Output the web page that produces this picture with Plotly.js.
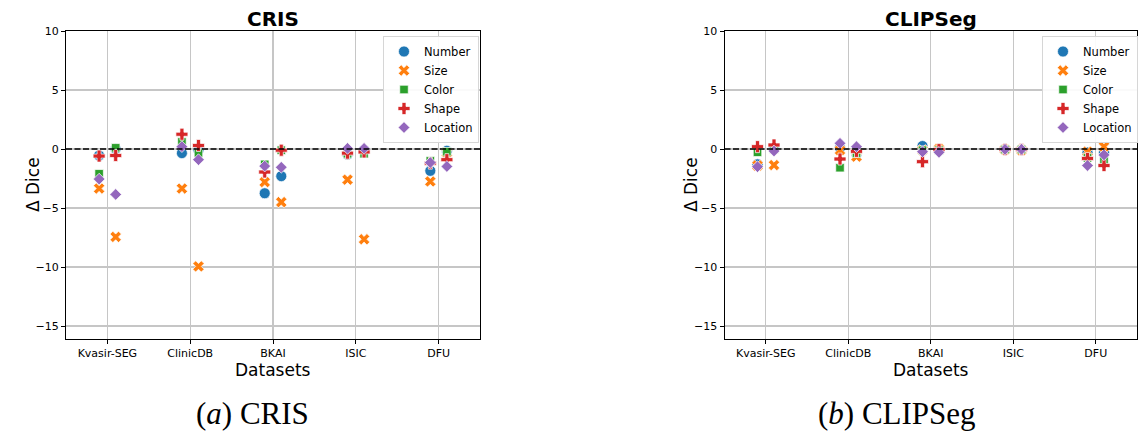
<!DOCTYPE html>
<html>
<head>
<meta charset="utf-8">
<script src="https://cdn.plot.ly/plotly-3.0.1.min.js"></script>
<style>html,body{margin:0;padding:0;background:#fff}#chart{width:1138px;height:434px}</style>
</head>
<body>
<div id="chart"></div>
<script>
// ---- data ----
const datasets = ["Kvasir-SEG", "ClinicDB", "BKAI", "ISIC", "DFU"];
const seriesNames = ["Number", "Size", "Color", "Shape", "Location"];
const yTickVals = [10, 5, 0, -5, -10, -15];
// two dodged points per dataset (left / right variant)
const dodge = [-0.1, 0.1];

// CRIS
const cris_number_l   = [-0.55, -0.35, -3.75, -0.45, -1.85];
const cris_number_r   = [ 0.0,  -0.1,  -2.3,  -0.1,  -0.15];
const cris_size_l     = [-3.35, -3.35, -2.8,  -2.6,  -2.75];
const cris_size_r     = [-7.45, -9.95, -4.5,  -7.65, -0.3];
const cris_color_l    = [-2.1,   0.6,  -1.3,  -0.4,  -1.0];
const cris_color_r    = [ 0.1,  -0.35, -0.1,  -0.4,  -0.23];
const cris_shape_l    = [-0.6,   1.25, -1.95, -0.35, -1.2];
const cris_shape_r    = [-0.55,  0.3,  -0.1,  -0.25, -0.9];
const cris_location_l = [-2.55,  0.2,  -1.45,  0.05, -1.15];
const cris_location_r = [-3.85, -0.9,  -1.55,  0.05, -1.48];

// CLIPSeg
const clip_number_l   = [-1.3,   0.1,   0.25, -0.05, -0.3];
const clip_number_r   = [ 0.1,  -0.4,  -0.1,  -0.05, -0.3];
const clip_size_l     = [-1.4,  -0.1,  -0.1,  -0.05, -0.23];
const clip_size_r     = [-1.36, -0.65,  0.0,  -0.1,   0.2];
const clip_color_l    = [-0.28, -1.58, -0.1,  -0.05, -0.75];
const clip_color_r    = [ 0.0,  -0.35, -0.1,  -0.05, -0.95];
const clip_shape_l    = [ 0.2,  -0.85, -1.07, -0.05, -0.8];
const clip_shape_r    = [ 0.34, -0.2,  -0.05, -0.05, -1.4];
const clip_location_l = [-1.5,   0.48, -0.23, -0.03, -1.4];
const clip_location_r = [-0.17,  0.2,  -0.28, -0.03, -0.5];

const colors  = ["#1f77b4", "#ff7f0e", "#2ca02c", "#d62728", "#9467bd"];
const symbols = ["circle", "x", "square", "cross", "diamond"];
const sizes   = [11, 10, 8.5, 10, 9];

const crisData = [
  [cris_number_l, cris_number_r], [cris_size_l, cris_size_r], [cris_color_l, cris_color_r],
  [cris_shape_l, cris_shape_r], [cris_location_l, cris_location_r]
];
const clipData = [
  [clip_number_l, clip_number_r], [clip_size_l, clip_size_r], [clip_color_l, clip_color_r],
  [clip_shape_l, clip_shape_r], [clip_location_l, clip_location_r]
];

const traces = [];
function addPanel(data, xa, ya, legendName) {
  data.forEach((pair, si) => {
    const xs = [], ys = [];
    pair.forEach((vals, gi) => {
      vals.forEach((v, di) => { xs.push(di + dodge[gi]); ys.push(v); });
    });
    traces.push({
      type: "scatter", mode: "markers", x: xs, y: ys, xaxis: xa, yaxis: ya,
      name: seriesNames[si], legend: legendName,
      marker: { color: colors[si], symbol: symbols[si], size: sizes[si],
                line: { color: "#ffffff", width: 0.7 } },
      hoverinfo: "skip"
    });
  });
}
addPanel(crisData, "x", "y", "legend");
addPanel(clipData, "x2", "y2", "legend2");

const W = 1138, H = 434;
const yDom = [1 - 339 / H, 1 - 31 / H];
const gridColor = "#c6c6c6";
const FONT = "DejaVu Sans";
function xAxis(domain, anchor) {
  return {
    domain: domain, anchor: anchor, range: [-0.5, 4.5],
    tickmode: "array", tickvals: datasets.map((d, i) => i), ticktext: datasets,
    showgrid: true, gridcolor: gridColor, gridwidth: 1.1,
    zeroline: false, showline: true, linecolor: "#000", linewidth: 1, mirror: true,
    ticks: "outside", ticklen: 4, tickcolor: "#000", tickwidth: 1,
    tickfont: { family: FONT, size: 11, color: "#000" },
    automargin: false
  };
}
function yAxis(anchor) {
  return {
    domain: yDom, anchor: anchor, range: [-16.1, 10],
    tickmode: "array", tickvals: yTickVals,
    showgrid: true, gridcolor: gridColor, gridwidth: 1.1,
    zeroline: false, showline: true, linecolor: "#000", linewidth: 1, mirror: true,
    ticks: "outside", ticklen: 4, tickcolor: "#000", tickwidth: 1,
    tickfont: { family: FONT, size: 11, color: "#000" },
    automargin: false
  };
}

const legendStyle = (xpx) => ({
  x: xpx / W, xanchor: "left", y: 1 - 36 / H, yanchor: "top",
  bgcolor: "rgba(255,255,255,0.9)", bordercolor: "#d6d6d6", borderwidth: 1,
  font: { family: FONT, size: 11.5, color: "#000" },
  itemsizing: "trace", tracegroupgap: 0
});

const zeroLine = (xref) => ({
  type: "line", xref: xref + " domain", yref: xref === "x" ? "y" : "y2",
  x0: 0, x1: 1, y0: 0, y1: 0,
  line: { color: "#000", width: 1.5, dash: "6px,2.5px" }, layer: "above"
});

function ann(text, xpx, ypx, size, family, angle) {
  return { text: text, xref: "paper", yref: "paper", x: xpx / W, y: 1 - ypx / H,
    xanchor: "center", yanchor: "middle", showarrow: false, textangle: angle || 0,
    font: { family: family || FONT, size: size, color: "#000" } };
}

const layout = {
  width: W, height: H,
  margin: { l: 0, r: 0, t: 0, b: 0 },
  paper_bgcolor: "#fff", plot_bgcolor: "#fff",
  showlegend: true,
  xaxis: xAxis([66 / W, 480 / W], "y"),
  yaxis: yAxis("x"),
  xaxis2: xAxis([724.5 / W, 1137 / W], "y2"),
  yaxis2: yAxis("x2"),
  legend: legendStyle(383),
  legend2: legendStyle(1042),
  shapes: [zeroLine("x"), zeroLine("x2")],
  annotations: [
    ann("<b>CRIS</b>", 273, 18.5, 20),
    ann("<b>CLIPSeg</b>", 931, 18.5, 20),
    ann("Datasets", 273, 370, 17),
    ann("Datasets", 931, 370, 17),
    ann("Δ Dice", 33, 185, 17, FONT, -90),
    ann("Δ Dice", 691, 185, 17, FONT, -90),
    ann("(<i>a</i>) CRIS", 252, 413, 31, "Liberation Serif"),
    ann("(<i>b</i>) CLIPSeg", 897, 413, 31, "Liberation Serif")
  ]
};

Plotly.newPlot("chart", traces, layout, { staticPlot: true, displayModeBar: false });
</script>
</body>
</html>
